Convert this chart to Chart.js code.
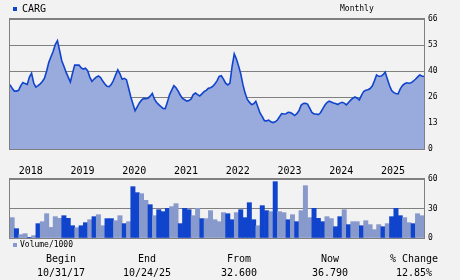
<!DOCTYPE html>
<html>
<head>
<meta charset="utf-8">
<script src="https://cdn.jsdelivr.net/npm/chart.js@4.4.1/dist/chart.umd.min.js"></script>
<style>
  html, body { margin:0; padding:0; background:#f2f2f2; }
  #wrap { position:relative; width:460px; height:280px; overflow:hidden; font-family:"DejaVu Sans Mono", monospace; color:#000; }
  canvas { position:absolute; left:0; }
  .t { position:absolute; white-space:nowrap; line-height:1; }
  .c { text-align:center; width:90px; }
  .sq { position:absolute; width:4px; height:4px; }
</style>
</head>
<body>
<div id="wrap">
  <canvas id="cv-price" width="460" height="180" style="top:0"></canvas>
  <canvas id="cv-vol" width="460" height="80" style="top:170px"></canvas>

  <div class="sq" style="left:13px;top:7px;background:#1144cc"></div>
  <div class="t" style="left:22px;top:4px;font-size:10px">CARG</div>
  <div class="t" style="left:340px;top:5px;font-size:8px">Monthly</div>

  <div class="sq" style="left:13px;top:243px;background:#8899cc"></div>
  <div class="t" style="left:20px;top:241px;font-size:8px">Volume/1000</div>

  <div id="footer"></div>
</div>
<script>
// ---- data ----
const symbol = 'CARG';
// price, sampled every half month from 10/31/17 to 10/24/25
const PRICE_STEP = 0.5;
const priceValues = [
  32.6,30.8,29.4,29.4,29.8,32.2,33.7,33.2,32.8,36.5,38.5,33.5,31.4,32.2,33.1,34.3,36.0,39.6,44.0,46.8,
  49.5,53.0,55.0,50.0,44.8,42.0,39.0,36.5,34.0,38.5,42.6,42.6,42.6,41.2,40.6,41.0,39.8,36.5,34.3,35.5,
  36.5,37.1,36.3,34.5,33.0,31.8,31.6,32.8,34.9,37.7,40.2,38.2,35.4,35.9,35.2,31.0,26.5,23.0,19.4,21.4,
  23.4,24.8,25.7,25.6,25.8,26.8,28.2,25.3,23.6,22.5,21.5,20.6,20.5,23.8,27.6,29.9,32.2,31.1,29.4,27.3,
  25.7,25.0,24.3,24.6,25.4,27.6,28.4,27.6,26.9,28.0,29.1,29.8,30.8,31.1,31.8,33.0,34.6,36.8,37.2,35.5,
  33.4,32.5,33.5,42.0,48.3,45.7,42.2,38.2,32.8,28.5,25.3,23.8,22.6,23.0,24.2,21.2,18.2,16.4,14.4,14.3,
  14.7,13.8,13.4,13.8,14.7,16.4,18.0,17.8,17.9,18.6,18.5,17.9,17.0,17.9,19.4,22.2,23.1,23.2,22.8,20.8,
  18.6,17.8,17.8,17.5,18.4,20.4,22.2,23.6,24.3,23.9,23.4,23.1,22.6,23.3,23.7,23.3,22.4,23.6,24.8,25.8,
  26.4,25.8,24.9,27.2,29.2,29.8,30.1,30.7,32.0,34.6,37.6,36.9,36.9,37.7,39.0,35.5,32.2,29.7,28.6,28.2,
  28.0,30.5,32.2,33.1,33.6,33.4,33.6,34.4,35.4,36.5,37.6,37.1,36.8
];
// monthly volume (thousands), Nov 2017 .. Oct 2025
const volumes = [
  20.7,9.5,3.4,4.4,0.7,2.4,14.6,16.6,24.7,10.8,21.7,20.0,22.7,20.0,12.5,10.5,12.5,15.6,18.6,21.7,
  23.7,12.5,19.7,19.7,17.6,22.7,14.6,16.6,52.2,46.1,45.1,38.3,33.9,22.7,28.8,26.8,30.2,31.9,34.9,14.6,
  30.2,28.8,22.7,30.2,19.7,19.7,27.8,18.6,16.6,25.8,24.7,18.6,25.8,28.8,20.7,35.9,18.6,12.5,32.9,27.8,
  26.8,57.3,26.8,25.8,18.6,23.7,16.6,27.8,53.2,20.7,30.2,20.0,16.6,21.7,19.7,11.5,21.7,28.8,13.6,16.6,
  16.6,12.5,17.6,13.6,8.5,13.6,11.5,14.6,21.7,30.2,22.7,20.7,15.6,14.6,24.7,22.7
];
const volumeUp = [
  0,1,0,0,1,0,1,0,0,0,0,0,1,1,1,0,1,1,0,1,
  0,0,1,1,0,0,1,0,1,1,0,0,1,0,1,1,1,0,0,1,
  1,1,0,0,1,0,0,0,0,0,1,1,0,1,1,1,1,0,1,1,
  0,1,0,0,1,0,1,0,0,0,1,1,1,0,0,1,1,0,1,0,
  0,1,0,0,0,0,1,0,1,1,1,0,0,1,0,0
];
const yearTicks = [2, 14, 26, 38, 50, 62, 74, 86];   // months after 10/31/17
const yearLabels = ['2018','2019','2020','2021','2022','2023','2024','2025'];
const priceTicks = [0, 13.2, 26.4, 39.6, 52.8, 66];
const priceTickLabels = ['0','13','26','40','53','66'];
const volTicks = [0, 30, 60];
const volTickLabels = ['0','30','60'];
const summary = [
  ['Begin', '10/31/17'], ['End', '10/24/25'], ['From', '32.600'], ['Now', '36.790'], ['% Change', '12.85%']
];

// ---- footer ----
const footX = [61, 147, 239, 330, 414];
document.getElementById('footer').innerHTML = summary.map((s, i) =>
  `<div class="t c" style="left:${footX[i]-45}px;top:254px;font-size:10px">${s[0]}</div>` +
  `<div class="t c" style="left:${footX[i]-45}px;top:268px;font-size:10px">${s[1]}</div>`).join('');

// ---- charts ----
const GRID = '#808080';
const MONO = '"DejaVu Sans Mono", monospace';
const frame = { id:'frame', afterDatasetsDraw(c){
  const a = c.chartArea, x = c.ctx;
  x.save(); x.strokeStyle = GRID; x.lineWidth = 1;
  x.strokeRect(a.left - 0.5, a.top - 0.5, a.width + 1, a.height + 1);
  x.restore();
}};

new Chart(document.getElementById('cv-price'), {
  type:'line',
  data:{ datasets:[{ data: priceValues.map((v, i) => ({x: i * PRICE_STEP, y: v})),
    borderColor:'#1144cc', backgroundColor:'#99aadd', borderWidth:1.6, fill:'origin', pointRadius:0, tension:0 }]},
  options:{
    responsive:false, animation:false, events:[],
    layout:{ padding:{ left:10, top:19, right:0, bottom:0 } },
    plugins:{ legend:{display:false}, tooltip:{enabled:false} },
    scales:{
      x:{ type:'linear', min:0, max:96, grid:{display:false}, border:{display:false},
        afterBuildTicks: s => { s.ticks = yearTicks.map(v => ({value:v})); },
        afterFit: s => { s.height = 31; },
        ticks:{ align:'start', padding:8, autoSkip:false, maxRotation:0, color:'#000',
          font:{ family:MONO, size:10 }, callback:(v, i) => yearLabels[i] } },
      y:{ position:'right', min:0, max:66, border:{display:false},
        grid:{ color:GRID, drawTicks:false },
        afterBuildTicks: s => { s.ticks = priceTicks.map(v => ({value:v})); },
        afterFit: s => { s.width = 36; },
        ticks:{ padding:4, color:'#000', font:{ family:MONO, size:8 }, callback:(v, i) => priceTickLabels[i] } }
    }
  },
  plugins:[frame]
});

new Chart(document.getElementById('cv-vol'), {
  type:'bar',
  data:{ labels: volumes.map((_, i) => i),
    datasets:[{ data: volumes, backgroundColor: volumeUp.map(u => u ? '#1144cc' : '#8899cc'),
      barPercentage:1, categoryPercentage:1, borderWidth:0 }]},
  options:{
    responsive:false, animation:false, events:[],
    layout:{ padding:{ left:10, top:9, right:0, bottom:12 } },
    plugins:{ legend:{display:false}, tooltip:{enabled:false} },
    scales:{
      x:{ display:false },
      y:{ position:'right', min:0, max:60, border:{display:false},
        grid:{ color:GRID, drawTicks:false },
        afterBuildTicks: s => { s.ticks = volTicks.map(v => ({value:v})); },
        afterFit: s => { s.width = 36; },
        ticks:{ padding:4, color:'#000', font:{ family:MONO, size:8 }, callback:(v, i) => volTickLabels[i] } }
    }
  },
  plugins:[frame]
});
</script>
</body>
</html>
